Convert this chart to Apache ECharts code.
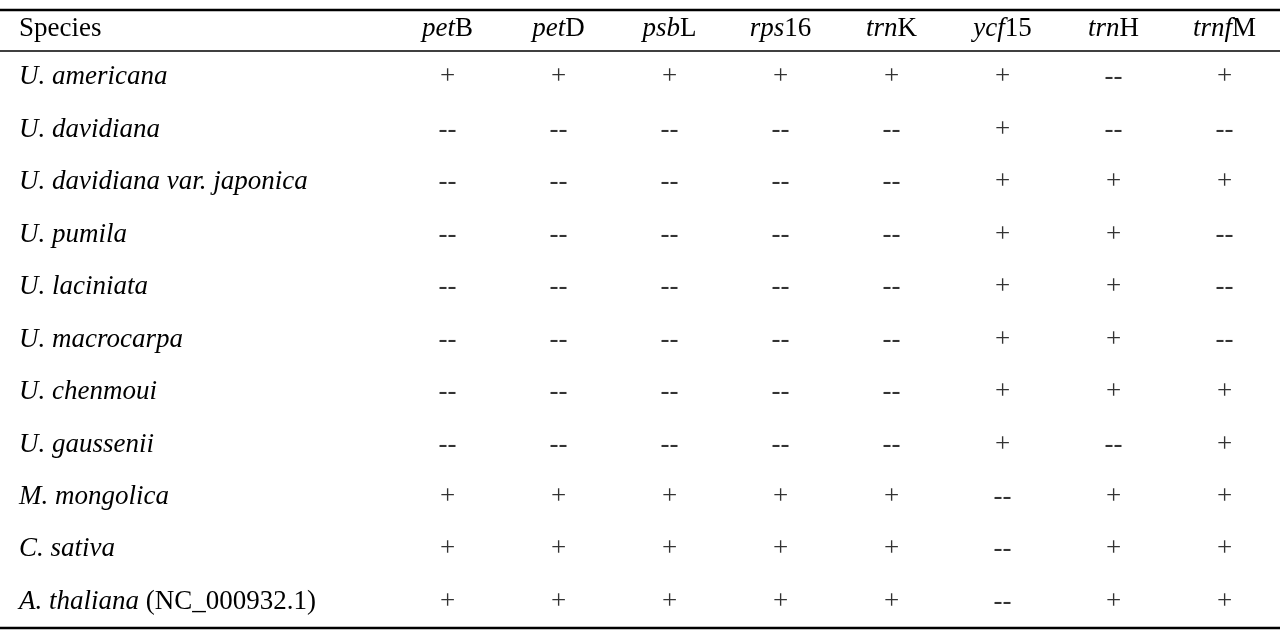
<!DOCTYPE html>
<html><head><meta charset="utf-8">
<script src="https://cdn.jsdelivr.net/npm/echarts@6/dist/echarts.min.js"></script>
<style>html,body{margin:0;padding:0;background:#fff}#c{width:1280px;height:633px}</style>
</head><body><div id="c"></div>
<script>
const genes = [['pet','B'],['pet','D'],['psb','L'],['rps','16'],['trn','K'],['ycf','15'],['trn','H'],['trnf','M']];
const species = [['U. americana',''],['U. davidiana',''],['U. davidiana var. japonica',''],['U. pumila',''],['U. laciniata',''],['U. macrocarpa',''],['U. chenmoui',''],['U. gaussenii',''],['M. mongolica',''],['C. sativa',''],['A. thaliana',' (NC_000932.1)']];
const presence = [
 ['+','+','+','+','+','+','--','+'],
 ['--','--','--','--','--','+','--','--'],
 ['--','--','--','--','--','+','+','+'],
 ['--','--','--','--','--','+','+','--'],
 ['--','--','--','--','--','+','+','--'],
 ['--','--','--','--','--','+','+','--'],
 ['--','--','--','--','--','+','+','+'],
 ['--','--','--','--','--','+','--','+'],
 ['+','+','+','+','+','--','+','+'],
 ['+','+','+','+','+','--','+','+'],
 ['+','+','+','+','+','--','+','+']
];
const F='Liberation Serif';
const FS=27;
const data=[];
presence.forEach((r,i)=>r.forEach((v,j)=>data.push([j,i,v])));
const chart=echarts.init(document.getElementById('c'));
chart.setOption({
 animation:false,
 grid:{left:392,right:0,top:51,bottom:5},
 xAxis:{type:'category',position:'top',data:genes.map(g=>g[0]+'|'+g[1]),
  axisLine:{show:false},axisTick:{show:false},
  axisLabel:{margin:9,formatter:v=>{const p=v.split('|');return '{i|'+p[0]+'}{n|'+p[1]+'}';},
   rich:{i:{fontFamily:F,fontSize:FS,fontStyle:'italic',color:'#000'},n:{fontFamily:F,fontSize:FS,color:'#000'}}}},
 yAxis:{type:'category',inverse:true,data:species.map(s=>s[0]+'|'+s[1]),
  axisLine:{show:false},axisTick:{show:false},
  axisLabel:{align:'left',margin:373,formatter:v=>{const p=v.split('|');return '{i|'+p[0]+'}'+(p[1]?'{n|'+p[1]+'}':'');},
   rich:{i:{fontFamily:F,fontSize:FS,fontStyle:'italic',color:'#000'},n:{fontFamily:F,fontSize:FS,color:'#000'}}}},
 series:[{type:'scatter',symbolSize:0,data:data,
  label:{show:true,position:'inside',formatter:p=>p.data[2],fontFamily:F,fontSize:FS,color:'#000'}}],
 graphic:[
  {type:'text',left:19,top:15,style:{text:'Species',font:FS+'px "Liberation Serif"',fill:'#000'}},
  {type:'line',shape:{x1:0,y1:10,x2:1280,y2:10},style:{stroke:'#000',lineWidth:2.5}},
  {type:'line',shape:{x1:0,y1:51,x2:1280,y2:51},style:{stroke:'#000',lineWidth:1.5}},
  {type:'line',shape:{x1:0,y1:628,x2:1280,y2:628},style:{stroke:'#000',lineWidth:2.5}}
 ]
});
</script></body></html>
